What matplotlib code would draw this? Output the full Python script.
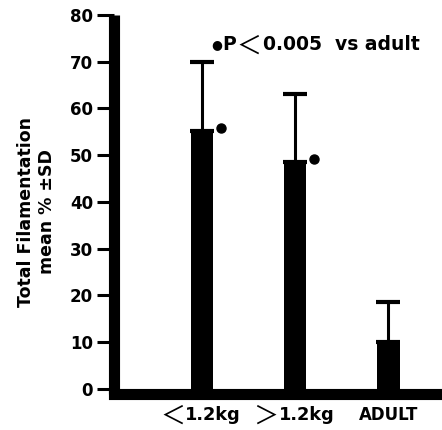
"""Total filamentation bar chart (mean % ± SD)"""

import matplotlib
matplotlib.use('Agg')
import matplotlib.pyplot as plt

plt.rcParams['font.family'] = ['DejaVu Sans']
plt.rcParams['font.weight'] = 'bold'

groups = ['<1.2kg', '>1.2kg', 'ADULT']
means = [55.2, 48.6, 10.0]
sds = [14.8, 14.5, 8.6]
significant = [True, True, False]
y_ticks = [0, 10, 20, 30, 40, 50, 60, 70, 80]
note = ['●', 'P', '<', '0.005  vs adult']

# wide thin comparison signs, as in the original typesetting
WIDE = {'<': '＜', '>': '＞'}
SYM_FONT = ['Noto Sans CJK JP', 'DejaVu Sans']

fig = plt.figure(figsize=(4.42, 4.30), dpi=100)
ax = fig.add_axes([0.2568, 0.0826, 0.7432, 0.8826])

pos = list(range(1, len(groups) + 1))
ax.bar(pos, means, width=0.24, color='black', zorder=2)
ax.errorbar(pos, means, yerr=[[0] * len(sds), sds], fmt='none',
            ecolor='black', elinewidth=2.2, capsize=8.3, capthick=3, zorder=3)

# significance dots next to the bars
for x, m, sig in zip(pos, means, significant):
    if sig:
        ax.plot(x + 0.205, m + 0.6, 'o', color='black', markersize=6.5, zorder=4)


def chain(prev, s, gap, dy=0, **kw):
    return ax.annotate(s, xy=(1, 0.5), xycoords=prev, xytext=(gap, dy),
                       textcoords='offset points', ha='left', va='center', **kw)


# legend note: ● P < 0.005 vs adult
t = ax.text(1.161, 73.6, note[0], fontsize=9, ha='center', va='center')
t = chain(t, note[1], 0, fontsize=13.5, fontweight='bold')
s = chain(t, WIDE[note[2]], 0, dy=-1.5, fontsize=18, fontweight='normal',
          family=SYM_FONT)
ax.annotate(note[3], xy=(1, 0.5), xycoords=(s, t), xytext=(1.5, 0),
            textcoords='offset points', ha='left', va='center',
            fontsize=13.5, fontweight='bold')

# group labels under the axis
xtr = ax.get_xaxis_transform()
for x, g in zip(pos, groups):
    if g[0] in WIDE:
        num = ax.annotate(g[1:], xy=(x, 0), xycoords=xtr, xytext=(-12, -14.8),
                          textcoords='offset points', ha='left', va='center',
                          fontsize=12.8, fontweight='bold')
        ax.annotate(WIDE[g[0]], xy=(0, 0.5), xycoords=num, xytext=(0, -1.5),
                    textcoords='offset points', ha='right', va='center',
                    fontsize=18, fontweight='normal', family=SYM_FONT)
    else:
        ax.annotate(g, xy=(x, 0), xycoords=xtr, xytext=(0, -14.8),
                    textcoords='offset points', ha='center', va='center',
                    fontsize=12, fontweight='bold')

ax.set_xlim(0.051, 3.574)
ax.set_ylim(-1.18, 80)
ax.set_yticks(y_ticks)
ax.set_xticks([])

for side in ['top', 'right']:
    ax.spines[side].set_visible(False)
for side in ['left', 'bottom']:
    ax.spines[side].set_linewidth(8)
ax.spines['left'].set_capstyle('butt')
ax.spines['bottom'].set_capstyle('projecting')

ax.tick_params(axis='y', length=12.6, width=2.2, pad=2, labelsize=12)

fig.text(36.5 / 442, 0.508, 'Total Filamentation\nmean % ±SD', rotation=90,
         ha='center', va='center', fontsize=12.5, fontweight='bold',
         multialignment='center', linespacing=1.2)

fig.savefig('out.png', dpi=100)
